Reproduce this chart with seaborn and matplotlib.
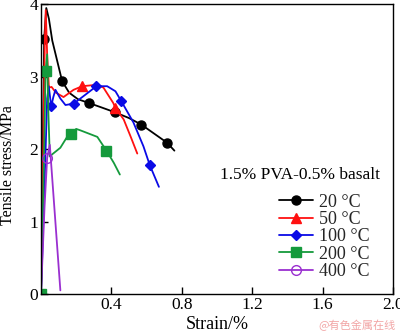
import matplotlib
matplotlib.use("Agg")
import matplotlib.pyplot as plt
import seaborn as sns
import pandas as pd

# Tensile stress-strain curves, 1.5% PVA-0.5% basalt, after exposure temperatures
labels = ["20 °C", "50 °C", "100 °C", "200 °C", "400 °C"]

strain_20 = [0, 0.010, 0.018, 0.030, 0.045, 0.064, 0.092, 0.120, 0.16, 0.21, 0.270, 0.34, 0.420, 0.50, 0.570, 0.64, 0.716, 0.758]
stress_20 = [0, 2.0, 3.52, 3.95, 3.80, 3.50, 3.22, 2.94, 2.78, 2.69, 2.64, 2.58, 2.51, 2.43, 2.34, 2.22, 2.09, 1.98]
marks_20 = [2, 7, 10, 12, 14, 16]

strain_50 = [0, 0.012, 0.022, 0.027, 0.035, 0.045, 0.060, 0.085, 0.128, 0.185, 0.234, 0.32, 0.355, 0.41, 0.423, 0.47, 0.51, 0.547]
stress_50 = [0, 2.0, 3.5, 3.92, 3.3, 2.85, 2.86, 2.78, 2.72, 2.82, 2.87, 2.89, 2.85, 2.64, 2.57, 2.41, 2.17, 1.94]
marks_50 = [10, 14]

strain_100 = [0, 0.02, 0.035, 0.044, 0.058, 0.070, 0.082, 0.11, 0.139, 0.186, 0.24, 0.315, 0.376, 0.423, 0.457, 0.525, 0.582, 0.618, 0.67]
stress_100 = [0, 1.5, 2.7, 2.87, 2.59, 2.72, 2.82, 2.70, 2.61, 2.63, 2.73, 2.87, 2.87, 2.80, 2.66, 2.37, 2.04, 1.78, 1.48]
marks_100 = [4, 9, 11, 14, 17]

strain_200 = [0, 0.018, 0.026, 0.035, 0.042, 0.050, 0.064, 0.11, 0.156, 0.173, 0.20, 0.224, 0.32, 0.372, 0.414, 0.448]
stress_200 = [0, 2.0, 3.08, 3.31, 2.5, 1.90, 1.93, 2.02, 2.20, 2.21, 2.28, 2.26, 2.17, 1.98, 1.81, 1.65]
marks_200 = [0, 2, 9, 13]

strain_400 = [0, 0.02, 0.035, 0.050, 0.11]
stress_400 = [0, 1.2, 1.88, 2.06, 0.05]
marks_400 = [2]

xtick_vals = [0.4, 0.8, 1.2, 1.6, 2.0]
xtick_labels = ["0.4", "0.8", "1.2", "1.6", "2.0"]
ytick_vals = [0, 1, 2, 3, 4]
ytick_labels = ["0", "1", "2", "3", "4"]

sns.set_theme(style="white")
plt.rcParams["font.family"] = ["Liberation Serif", "DejaVu Sans"]

fig = plt.figure(figsize=(4.0, 3.35), dpi=100)
ax = fig.add_axes([0.1025, 0.1224, 0.88, 0.8645])

series = [
    (strain_20, stress_20, marks_20, "#000000", "o", "#000000"),
    (strain_50, stress_50, marks_50, "#ff1010", "^", "#ff1010"),
    (strain_100, stress_100, marks_100, "#0a0ae6", "D", "#0a0ae6"),
    (strain_200, stress_200, marks_200, "#159a3c", "s", "#159a3c"),
    (strain_400, stress_400, marks_400, "#9a2fd0", "o", "none"),
]
msizes = [6.5, 6.5, 5.0, 6.5, 7.0]

handles = []
for (sx, sy, mk, col, m, fc), lab, ms in zip(series, labels, msizes):
    df = pd.DataFrame({"strain": sx, "stress": sy})
    sns.lineplot(data=df, x="strain", y="stress", sort=False, estimator=None,
                 color=col, lw=1.3, marker=m, markevery=mk, markersize=ms,
                 markerfacecolor=fc, markeredgecolor=col, markeredgewidth=1.0,
                 ax=ax, label=lab, legend=False)
    handles.append(ax.lines[-1])

ax.set_xlim(0, 2.0)
ax.set_ylim(0, 4.0)
ax.set_xticks(xtick_vals)
ax.set_xticklabels(xtick_labels)
ax.set_yticks(ytick_vals)
ax.set_yticklabels(ytick_labels)
ax.tick_params(axis="both", direction="in", length=5, width=1, color="black",
               labelsize=12.5, labelcolor="black", pad=2,
               bottom=True, left=True, top=False, right=False)
for sp in ax.spines.values():
    sp.set_color("black")
    sp.set_linewidth(1.0)
ax.set_xlabel("Strain/%", fontsize=13, color="black")
ax.xaxis.set_label_coords(0.5, -0.075)
ax.set_ylabel("Tensile stress/MPa", fontsize=11.5, color="black")
ax.yaxis.set_label_coords(-0.072, 0.445)

ax.text(0.508, 0.41, "1.5% PVA-0.5% basalt", transform=ax.transAxes,
        fontsize=12.5, color="black", ha="left", va="center")
leg = ax.legend(handles=handles, labels=labels, loc="upper left",
                bbox_to_anchor=(0.64, 0.39), frameon=False, fontsize=13,
                handlelength=1.9, handletextpad=0.3, labelspacing=0.02,
                borderpad=0.2)

fig.text(0.988, 0.012, "@有色金属在线", fontsize=8, color="#f2a6a6",
         ha="right", va="bottom", family=["Noto Sans CJK SC", "DejaVu Sans"])

fig.savefig("out.png", dpi=100)
